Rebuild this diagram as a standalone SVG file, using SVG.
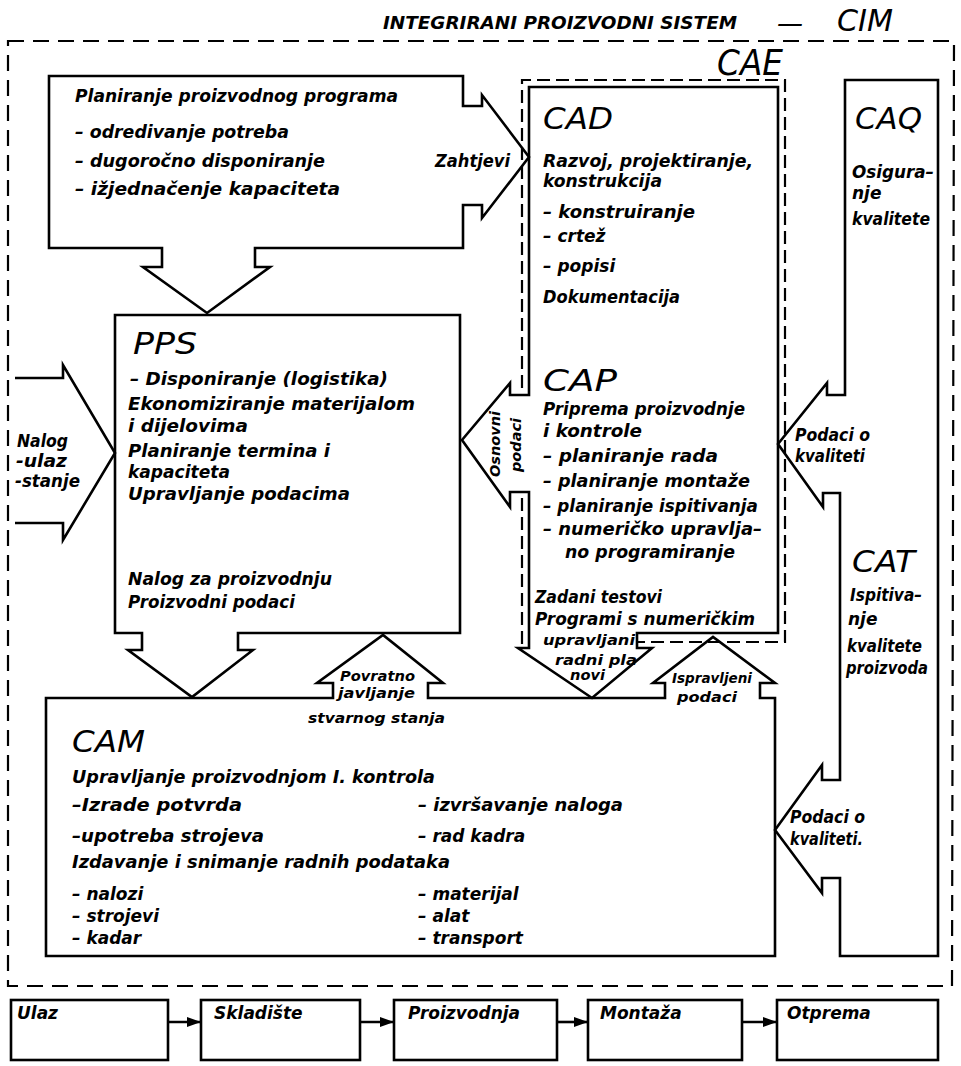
<svg xmlns="http://www.w3.org/2000/svg" width="961" height="1066" viewBox="0 0 961 1066">
<style>
.ln{fill:none;stroke:#000;stroke-width:2.6;stroke-linejoin:miter}
.dsh{fill:none;stroke:#000;stroke-width:2.2;stroke-dasharray:16 9}
.dsh2{fill:none;stroke:#000;stroke-width:2.2;stroke-dasharray:13 6}
text{font-family:"DejaVu Sans","Liberation Sans",sans-serif;font-style:oblique;font-weight:bold;font-size:17px;fill:#000}
text.h{font-weight:normal;font-size:30px}
text.cae{font-weight:normal;font-size:35px}
text.em{font-weight:normal;font-size:26px}
text.s{font-size:14.5px}
</style>
<defs>
<marker id="ah" viewBox="0 0 14 10" markerWidth="14" markerHeight="10" refX="14" refY="5" orient="auto" markerUnits="userSpaceOnUse">
<path d="M0,0 L14,5 L0,10 Z" fill="#000"/>
</marker>
</defs>
<rect width="961" height="1066" fill="#fff"/>

<g id="cim-frame">
<path class="dsh" d="M8,41 L954,41 L952,986 L8,986 Z"/>
<text x="383" y="29" textLength="354" lengthAdjust="spacingAndGlyphs">INTEGRIRANI PROIZVODNI SISTEM</text>
<text class="em" x="777" y="32" textLength="26" lengthAdjust="spacingAndGlyphs">—</text>
<text class="h" x="837" y="31" textLength="56" lengthAdjust="spacingAndGlyphs">CIM</text>
</g>

<g id="planiranje">
<path class="ln" d="M49,76 L463,76 L463,106 L482,106 L482,95 L529,157 L482,218 L482,205 L463,205 L463,248 L255,248 L255,267 L270,267 L207,313 L143,267 L162,267 L162,248 L49,248 Z"/>
<text x="75" y="102" textLength="323" lengthAdjust="spacingAndGlyphs">Planiranje proizvodnog programa</text>
<text x="75" y="138" textLength="214" lengthAdjust="spacingAndGlyphs">– odredivanje potreba</text>
<text x="75" y="167" textLength="250" lengthAdjust="spacingAndGlyphs">– dugoročno disponiranje</text>
<text x="75" y="195" textLength="265" lengthAdjust="spacingAndGlyphs">– ižjednačenje kapaciteta</text>
</g>

<g id="cae">
<path class="dsh2" d="M522,388 L522,80 L785,80 L785,642 L637,642"/>
<path class="dsh2" d="M522,498 L522,645"/>
<text class="cae" x="717" y="75" textLength="66" lengthAdjust="spacingAndGlyphs">CAE</text>
</g>

<g id="cad-cap">
<path class="ln" d="M529,87 L778,87 L778,633 L637,633 L637,648 L652,648 L592,698 L518,648 L529,648 L529,492 L510,492 L510,507 L462,440 L510,383 L510,395 L529,395 Z"/>
<text class="h" x="543" y="129" textLength="70" lengthAdjust="spacingAndGlyphs">CAD</text>
<text x="543" y="167" textLength="210" lengthAdjust="spacingAndGlyphs">Razvoj, projektiranje,</text>
<text x="543" y="187" textLength="119" lengthAdjust="spacingAndGlyphs">konstrukcija</text>
<text x="543" y="218" textLength="152" lengthAdjust="spacingAndGlyphs">– konstruiranje</text>
<text x="543" y="242">– crtež</text>
<text x="543" y="272">– popisi</text>
<text x="543" y="303" textLength="137" lengthAdjust="spacingAndGlyphs">Dokumentacija</text>
<text class="h" x="543" y="391" textLength="74" lengthAdjust="spacingAndGlyphs">CAP</text>
<text x="543" y="415" textLength="202" lengthAdjust="spacingAndGlyphs">Priprema proizvodnje</text>
<text x="543" y="437" textLength="99" lengthAdjust="spacingAndGlyphs">i kontrole</text>
<text x="543" y="462" textLength="175" lengthAdjust="spacingAndGlyphs">– planiranje rada</text>
<text x="543" y="487" textLength="207" lengthAdjust="spacingAndGlyphs">– planiranje montaže</text>
<text x="543" y="512" textLength="215" lengthAdjust="spacingAndGlyphs">– planiranje ispitivanja</text>
<text x="543" y="535" textLength="219" lengthAdjust="spacingAndGlyphs">– numeričko upravlja–</text>
<text x="565" y="558" textLength="170" lengthAdjust="spacingAndGlyphs">no programiranje</text>
<text x="535" y="603" textLength="127" lengthAdjust="spacingAndGlyphs">Zadani testovi</text>
<text x="535" y="625" textLength="220" lengthAdjust="spacingAndGlyphs">Programi s numeričkim</text>
</g>

<g id="caq-cat">
<path class="ln" d="M845,80 L938,80 L938,956 L840,956 L840,878 L822,878 L822,893 L775,830 L822,765 L822,780 L840,780 L840,493 L823,493 L823,507 L778,444 L827,383 L827,395 L845,395 Z"/>
<text class="h" x="855" y="129" textLength="67" lengthAdjust="spacingAndGlyphs">CAQ</text>
<text x="852" y="178" textLength="82" lengthAdjust="spacingAndGlyphs">Osigura–</text>
<text x="852" y="199">nje</text>
<text x="852" y="225" textLength="78" lengthAdjust="spacingAndGlyphs">kvalitete</text>
<text class="h" x="852" y="572" textLength="63" lengthAdjust="spacingAndGlyphs">CAT</text>
<text x="850" y="601" textLength="72" lengthAdjust="spacingAndGlyphs">Ispitiva–</text>
<text x="848" y="625">nje</text>
<text x="847" y="652" textLength="75" lengthAdjust="spacingAndGlyphs">kvalitete</text>
<text x="846" y="674" textLength="82" lengthAdjust="spacingAndGlyphs">proizvoda</text>
</g>

<g id="pps">
<path class="ln" d="M115,315 L460,315 L460,633 L238,633 L238,650 L253,650 L192,697 L128,650 L142,650 L142,633 L115,633 Z"/>
<text class="h" x="133" y="354" textLength="64" lengthAdjust="spacingAndGlyphs">PPS</text>
<text x="130" y="385" textLength="258" lengthAdjust="spacingAndGlyphs">– Disponiranje (logistika)</text>
<text x="128" y="410" textLength="287" lengthAdjust="spacingAndGlyphs">Ekonomiziranje materijalom</text>
<text x="128" y="432" textLength="120" lengthAdjust="spacingAndGlyphs">i dijelovima</text>
<text x="128" y="457" textLength="202" lengthAdjust="spacingAndGlyphs">Planiranje termina i</text>
<text x="128" y="478" textLength="102" lengthAdjust="spacingAndGlyphs">kapaciteta</text>
<text x="128" y="500" textLength="222" lengthAdjust="spacingAndGlyphs">Upravljanje podacima</text>
<text x="128" y="585" textLength="204" lengthAdjust="spacingAndGlyphs">Nalog za proizvodnju</text>
<text x="128" y="608" textLength="167" lengthAdjust="spacingAndGlyphs">Proizvodni podaci</text>
</g>

<g id="cam">
<path class="ln" d="M46,698 L333,698 L333,683 L317,683 L383,635 L443,683 L428,683 L428,698 L665,698 L665,683 L653,683 L713,637 L775,683 L760,683 L760,698 L775,698 L775,956 L46,956 Z"/>
<text class="h" x="72" y="752" textLength="73" lengthAdjust="spacingAndGlyphs">CAM</text>
<text x="72" y="783" textLength="363" lengthAdjust="spacingAndGlyphs">Upravljanje proizvodnjom I. kontrola</text>
<text x="72" y="811" textLength="170" lengthAdjust="spacingAndGlyphs">–Izrade potvrda</text>
<text x="418" y="811" textLength="205" lengthAdjust="spacingAndGlyphs">– izvršavanje naloga</text>
<text x="72" y="842" textLength="192" lengthAdjust="spacingAndGlyphs">–upotreba strojeva</text>
<text x="418" y="842">– rad kadra</text>
<text x="72" y="868" textLength="378" lengthAdjust="spacingAndGlyphs">Izdavanje i snimanje radnih podataka</text>
<text x="72" y="900">– nalozi</text>
<text x="418" y="900">– materijal</text>
<text x="72" y="922">– strojevi</text>
<text x="418" y="922">– alat</text>
<text x="72" y="944">– kadar</text>
<text x="418" y="944">– transport</text>
</g>

<g id="ulaz"><rect class="ln" x="11" y="1000" width="157" height="60"/><text x="17" y="1019">Ulaz</text></g>
<g id="skladiste"><rect class="ln" x="201" y="1000" width="159" height="60"/><text x="214" y="1019">Skladište</text></g>
<g id="proizvodnja"><rect class="ln" x="394" y="1000" width="163" height="60"/><text x="408" y="1019">Proizvodnja</text></g>
<g id="montaza"><rect class="ln" x="588" y="1000" width="154" height="60"/><text x="600" y="1019">Montaža</text></g>
<g id="otprema"><rect class="ln" x="777" y="1000" width="161" height="60"/><text x="787" y="1019">Otprema</text></g>

<g id="connectors">
<path class="ln" d="M15,378 L63,378 L63,365 L115,453 L63,540 L63,523 L15,523"/>
<text x="17" y="447" textLength="51" lengthAdjust="spacingAndGlyphs">Nalog</text>
<text x="16" y="467" textLength="51" lengthAdjust="spacingAndGlyphs">-ulaz</text>
<text x="15" y="487" textLength="65" lengthAdjust="spacingAndGlyphs">-stanje</text>
<text x="435" y="167" textLength="75" lengthAdjust="spacingAndGlyphs">Zahtjevi</text>
<text class="s" transform="translate(500,444) rotate(-90)" text-anchor="middle">Osnovni</text>
<text class="s" transform="translate(521,445) rotate(-90)" text-anchor="middle">podaci</text>
<text x="795" y="441" textLength="75" lengthAdjust="spacingAndGlyphs">Podaci o</text>
<text x="795" y="462" textLength="70" lengthAdjust="spacingAndGlyphs">kvaliteti</text>
<text x="790" y="823" textLength="75" lengthAdjust="spacingAndGlyphs">Podaci o</text>
<text x="790" y="845" textLength="73" lengthAdjust="spacingAndGlyphs">kvaliteti.</text>
<text class="s" x="340" y="681" textLength="75" lengthAdjust="spacingAndGlyphs">Povratno</text>
<text class="s" x="338" y="698" textLength="77" lengthAdjust="spacingAndGlyphs">javljanje</text>
<text class="s" x="308" y="723" textLength="137" lengthAdjust="spacingAndGlyphs">stvarnog stanja</text>
<text class="s" x="543" y="645" textLength="92" lengthAdjust="spacingAndGlyphs">upravljani</text>
<text class="s" x="555" y="665" textLength="82" lengthAdjust="spacingAndGlyphs">radni pla</text>
<text class="s" x="570" y="680" textLength="35" lengthAdjust="spacingAndGlyphs">novi</text>
<text class="s" x="672" y="683" textLength="80" lengthAdjust="spacingAndGlyphs">Ispravljeni</text>
<text class="s" x="677" y="702" textLength="60" lengthAdjust="spacingAndGlyphs">podaci</text>
<line class="ln" x1="168" y1="1022" x2="201" y2="1022" marker-end="url(#ah)"/>
<line class="ln" x1="360" y1="1022" x2="394" y2="1022" marker-end="url(#ah)"/>
<line class="ln" x1="557" y1="1022" x2="588" y2="1022" marker-end="url(#ah)"/>
<line class="ln" x1="742" y1="1022" x2="777" y2="1022" marker-end="url(#ah)"/>
</g>
</svg>
